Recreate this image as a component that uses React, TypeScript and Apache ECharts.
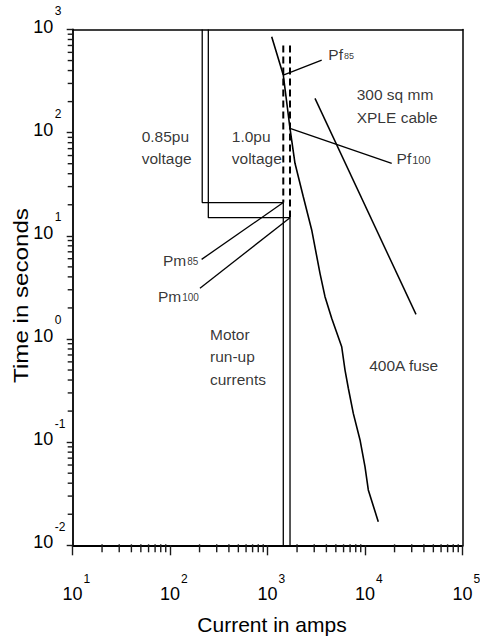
import React, { useEffect, useRef } from "react";
import * as echarts from "echarts";

const FONT = "'Liberation Sans', Arial, Helvetica, sans-serif";
const TICK_COLOR = "#1a1a1a";

// Axis ranges and tick labels
const X_MIN = 10;
const X_MAX = 100000;
const Y_MIN = 0.01;
const Y_MAX = 1000;
const X_TICK_VALUES = [10, 100, 1000, 10000, 100000];
const X_TICK_EXP = ["1", "2", "3", "4", "5"];
const Y_TICK_VALUES = [0.01, 0.1, 1, 10, 100, 1000];
const Y_TICK_EXP = ["-2", "-1", "0", "1", "2", "3"];
const MINOR_MULTIPLES = [2, 3, 4, 5, 6, 7, 8, 9];
const X_DECADES = [10, 100, 1000, 10000];
const Y_DECADES = [0.01, 0.1, 1, 10, 100];

// Motor run-up currents (amps, seconds)
const MOTOR_085_X = [213, 213, 1445, 1445];
const MOTOR_085_Y = [1000, 21, 21, 0.01];
const MOTOR_100_X = [246, 246, 1694, 1694];
const MOTOR_100_Y = [1000, 15, 15, 0.01];
const DASH_085_X = [1445, 1445];
const DASH_085_Y = [700, 21];
const DASH_100_X = [1694, 1694];
const DASH_100_Y = [700, 15];

// 400A fuse characteristic
const FUSE_X = [1099, 1445, 1693, 1905, 2318, 2827, 3438, 3870, 4531, 5741, 6209, 6714, 7551, 8850, 9950, 10760, 13620];
const FUSE_Y = [851, 362, 110, 50.5, 23.9, 11.4, 4.33, 2.57, 1.585, 0.841, 0.5, 0.333, 0.19, 0.105, 0.0578, 0.0344, 0.0169];

// 300 sq mm XLPE cable damage line
const CABLE_X = [3055, 33200];
const CABLE_Y = [215, 1.73];

// Leader lines [from label, to point]
const LEAD_PF85_X = [3580, 1445];
const LEAD_PF85_Y = [506, 362];
const LEAD_PF100_X = [18700, 1694];
const LEAD_PF100_Y = [50.5, 110];
const LEAD_PM85_X = [210, 1445];
const LEAD_PM85_Y = [5.91, 21];
const LEAD_PM100_X = [202, 1694];
const LEAD_PM100_Y = [3.1, 15];

// Annotation texts (anchored at left-middle)
const NOTE_TEXT = ["0.85pu\nvoltage", "1.0pu\nvoltage", "300 sq mm\nXPLE cable", "Motor\nrun-up\ncurrents", "400A fuse"];
const NOTE_X = [51, 428, 8180, 256, 11000];
const NOTE_Y = [72, 72, 182, 0.673, 0.55];

// Point labels with subscripts
const SUB_MAIN = ["Pf", "Pf", "Pm", "Pm"];
const SUB_SUB = ["85", "100", "85", "100"];
const SUB_SIZE = [9, 11, 10, 10];
const SUB_X = [4190, 21000, 194, 197];
const SUB_Y = [566, 56, 5.8, 2.57];
const SUB_SIDE = ["right", "right", "left", "left"];

const zip = (xs: number[], ys: number[]) => xs.map((x, i) => [x, ys[i]]);

const line = (xs: number[], ys: number[], width: number, dashed = false) => ({
  type: "line",
  data: zip(xs, ys),
  symbol: "none",
  lineStyle: {
    color: "#000",
    width,
    type: dashed ? [7, 4] : "solid",
  },
});

const frameAxis = {
  axisLine: { show: true, onZero: false, lineStyle: { color: "#000", width: 1.5 } },
  axisTick: { show: false },
  axisLabel: { show: false },
  splitLine: { show: false },
};

const txt = (x: number, y: number, text: string, size: number) => ({
  type: "text",
  x,
  y,
  style: { text, font: `${size}px ${FONT}`, fill: "#000", align: "left", verticalAlign: "middle" },
});

export default function App() {
  const ref = useRef<HTMLDivElement>(null);

  useEffect(() => {
    if (!ref.current) return;
    const chart = echarts.init(ref.current, undefined, { renderer: "svg" });

    const xMinor: number[][] = [];
    X_DECADES.forEach((d) => MINOR_MULTIPLES.forEach((m) => xMinor.push([d * m, Y_MIN])));
    const yMinor: number[][] = [];
    Y_DECADES.forEach((d) => MINOR_MULTIPLES.forEach((m) => yMinor.push([X_MIN, d * m])));

    const option: any = {
      animation: false,
      grid: { left: 72.7, right: 17.3, top: 29.5, bottom: 93.7 },
      xAxis: [
        {
          type: "log",
          min: X_MIN,
          max: X_MAX,
          axisLine: { show: true, onZero: false, lineStyle: { color: "#000", width: 1.8 } },
          axisTick: { show: true, inside: false, length: 10, lineStyle: { color: TICK_COLOR, width: 1.4 } },
          axisLabel: { show: false },
          splitLine: { show: false },
        },
        { type: "log", min: X_MIN, max: X_MAX, position: "top", ...frameAxis },
      ],
      yAxis: [
        {
          type: "log",
          min: Y_MIN,
          max: Y_MAX,
          axisLine: { show: true, onZero: false, lineStyle: { color: "#000", width: 1.8 } },
          axisTick: { show: true, inside: false, length: 6, lineStyle: { color: TICK_COLOR, width: 1.4 } },
          axisLabel: { show: false },
          splitLine: { show: false },
        },
        { type: "log", min: Y_MIN, max: Y_MAX, position: "right", ...frameAxis },
      ],
      graphic: [
        {
          type: "text",
          x: 272,
          y: 624,
          silent: true,
          style: { text: "Current in amps", font: `21px ${FONT}`, fill: "#000", align: "center", verticalAlign: "middle" },
        },
        {
          type: "text",
          x: 21,
          y: 295.5,
          rotation: Math.PI / 2,
          scaleX: 1.15,
          silent: true,
          style: { text: "Time in seconds", font: `21px ${FONT}`, fill: "#000", align: "center", verticalAlign: "middle" },
        },
      ],
      series: [
        line(MOTOR_085_X, MOTOR_085_Y, 1.3),
        line(MOTOR_100_X, MOTOR_100_Y, 1.3),
        line(DASH_085_X, DASH_085_Y, 2, true),
        line(DASH_100_X, DASH_100_Y, 2, true),
        line(FUSE_X, FUSE_Y, 1.6),
        line(CABLE_X, CABLE_Y, 1.5),
        line(LEAD_PF85_X, LEAD_PF85_Y, 1.3),
        line(LEAD_PF100_X, LEAD_PF100_Y, 1.3),
        line(LEAD_PM85_X, LEAD_PM85_Y, 1.3),
        line(LEAD_PM100_X, LEAD_PM100_Y, 1.3),
        {
          // minor ticks on the current axis
          type: "custom",
          clip: false,
          data: xMinor,
          renderItem: (_p: any, api: any) => {
            const p = api.coord([api.value(0), Y_MIN]);
            return {
              type: "line",
              shape: { x1: p[0], y1: p[1] - 1, x2: p[0], y2: p[1] + 7 },
              style: { stroke: TICK_COLOR, lineWidth: 1.4 },
            };
          },
        },
        {
          // minor ticks on the time axis
          type: "custom",
          clip: false,
          data: yMinor,
          renderItem: (_p: any, api: any) => {
            const p = api.coord([X_MIN, api.value(1)]);
            return {
              type: "line",
              shape: { x1: p[0] - 5, y1: p[1], x2: p[0] + 1, y2: p[1] },
              style: { stroke: TICK_COLOR, lineWidth: 1.4 },
            };
          },
        },
        {
          // tick labels 10^n on the current axis
          type: "custom",
          clip: false,
          data: X_TICK_VALUES.map((v) => [v, Y_MIN]),
          renderItem: (params: any, api: any) => {
            const p = api.coord([api.value(0), Y_MIN]);
            return {
              type: "group",
              children: [
                txt(p[0] - 10.3, p[1] + 49, "10", 18),
                txt(p[0] + 10.8, p[1] + 33.5, X_TICK_EXP[params.dataIndex], 12),
              ],
            };
          },
        },
        {
          // tick labels 10^n on the time axis
          type: "custom",
          clip: false,
          data: Y_TICK_VALUES.map((v) => [X_MIN, v]),
          renderItem: (params: any, api: any) => {
            const p = api.coord([X_MIN, api.value(1)]);
            return {
              type: "group",
              children: [
                txt(p[0] - 39.4, p[1] - 3, "10", 18),
                txt(p[0] - 17.9, p[1] - 18.5, Y_TICK_EXP[params.dataIndex], 12),
              ],
            };
          },
        },
        {
          type: "scatter",
          symbolSize: 0,
          data: NOTE_TEXT.map((t, i) => ({
            value: [NOTE_X[i], NOTE_Y[i]],
            label: {
              show: true,
              position: "right",
              distance: 0,
              formatter: () => t,
              fontSize: 15.5,
              lineHeight: 22.5,
              fontFamily: FONT,
              color: "#000",
            },
          })),
        },
        {
          type: "scatter",
          symbolSize: 0,
          data: SUB_MAIN.map((m, i) => ({
            value: [SUB_X[i], SUB_Y[i]],
            label: {
              show: true,
              position: SUB_SIDE[i],
              distance: 0,
              formatter: () => `{m|${m}}{s|${SUB_SUB[i]}}`,
              rich: {
                m: { fontSize: 15.5, lineHeight: 18, fontFamily: FONT, color: "#000", verticalAlign: "middle" },
                s: { fontSize: SUB_SIZE[i], lineHeight: 12, fontFamily: FONT, color: "#000", verticalAlign: "middle", padding: [2, 0, 0, 1] },
              },
            },
          })),
        },
      ],
    };

    chart.setOption(option);
    return () => chart.dispose();
  }, []);

  return (
    <div
      ref={ref}
      style={{ position: "fixed", left: 0, top: 0, width: 480, height: 639, background: "#fff" }}
    />
  );
}
